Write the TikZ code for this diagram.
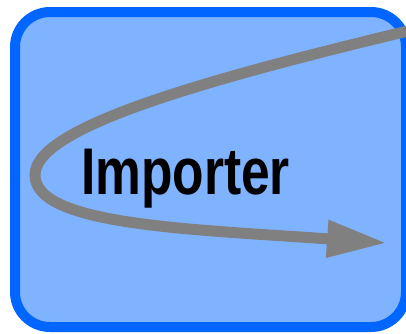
\documentclass[tikz,border=0pt]{standalone}
\definecolor{boxblue}{RGB}{0, 102, 255}
\definecolor{fillblue}{RGB}{128, 179, 255}
\definecolor{loopgray}{RGB}{128, 128, 128}
\usepackage{fontspec}
\newfontfamily\narrowsans[FakeStretch=0.78]{Liberation Sans}
\usetikzlibrary{arrows.meta}

\begin{document}
\begin{tikzpicture}[
  x=1pt, y=-1pt,
  modulebox/.style={draw=boxblue, fill=fillblue, line width=10pt, rounded corners=35pt, minimum width=391pt, minimum height=315pt, inner sep=0pt},
  modulelabel/.style={font=\narrowsans\bfseries\fontsize{66}{66}\selectfont, inner sep=0pt, anchor=base west},
  flowline/.style={draw=loopgray, line width=11pt, -{Triangle[length=60pt, width=35pt]}}
]
  \useasboundingbox (0,0) rectangle (406,333);
  \node[modulebox] (importer) at (210.5,169.5) {};
  \node[modulelabel] (importerlabel) at (81,194) {Importer};
  % loop coming in from the right and going back out
  \coordinate (loopin) at (412,30);
  \coordinate (loopturn) at (35,175);
  \coordinate (loopout) at (387,243);
  \draw[flowline] (loopin) .. controls (182,85) and (35,130) .. (loopturn)
    .. controls (35,225) and (187,229) .. (loopout);
\end{tikzpicture}
\end{document}
